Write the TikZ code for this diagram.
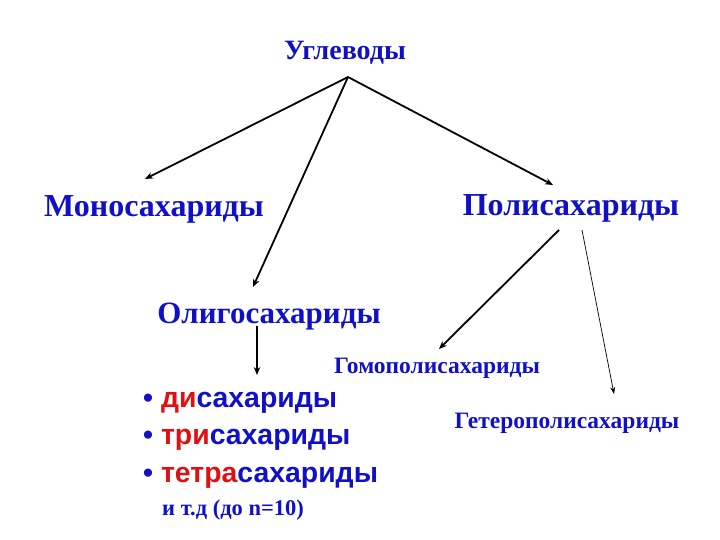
\documentclass[tikz,border=0pt]{standalone}
\usepackage{fontspec}
\setmainfont{Liberation Serif}
\setsansfont{Liberation Sans}
\usetikzlibrary{arrows.meta}
\definecolor{textblue}{RGB}{16,16,200}
\definecolor{textred}{RGB}{225,16,16}
\tikzset{
        textnode/.style={inner sep=0pt, anchor=base, textblue, font=\bfseries},
        % Top node
        node_root/.style={textnode, font=\fontsize{28}{32}\selectfont\bfseries},
        % First level nodes
        node_main/.style={textnode, font=\fontsize{32}{38}\selectfont\bfseries},
        % Second level nodes
        node_sub/.style={textnode, font=\fontsize{23.5}{28}\selectfont\bfseries},
        % Bulleted list
        node_list/.style={textnode, anchor=base west, font=\fontsize{28.4}{34}\selectfont\sffamily\bfseries},
        % Note under the list
        node_note/.style={textnode, anchor=base west, font=\fontsize{22.5}{27}\selectfont\bfseries},
        arrow_main/.style={-{Stealth[length=8pt,width=6.5pt]}, line width=1.8pt, black},
        arrow_thin/.style={-{Stealth[length=7pt,width=5pt]}, line width=0.7pt, black}
}
\newcommand{\prefix}[1]{\textcolor{textred}{#1}}
\begin{document}
\begin{tikzpicture}[x=1pt, y=-1pt]
            \useasboundingbox (0,0) rectangle (720,540);
            \node[node_root] (carbs) at (345,60) {Углеводы};
            \node[node_main] (mono) at (154,217) {Моносахариды};
            \node[node_main] (poly) at (571,215) {Полисахариды};
            \node[node_main, font=\fontsize{31}{37}\selectfont\bfseries] (oligo) at (269,323) {Олигосахариды};
            \node[node_sub] (homo) at (437,373) {Гомополисахариды};
            \node[node_sub] (hetero) at (567,428) {Гетерополисахариды};
            \node[node_list] (di) at (143,407) {• \prefix{ди}сахариды};
            \node[node_list] (tri) at (143,444) {• \prefix{три}сахариды};
            \node[node_list] (tetra) at (143,482) {• \prefix{тетра}сахариды};
            \node[node_note] (note) at (162,515) {и т.д (до n=10)};
            % arrow ends
            \coordinate (carbs_fork) at (348,77);
            \coordinate (mono_tip) at (145,179);
            \coordinate (oligo_tip) at (253,287);
            \coordinate (poly_tip) at (553,185);
            \coordinate (poly_left) at (559,230);
            \coordinate (poly_right) at (582,230);
            \coordinate (homo_tip) at (439,349);
            \coordinate (hetero_tip) at (614,394);
            \coordinate (oligo_start) at (257,326);
            \coordinate (list_tip) at (257,375);
            \draw[arrow_main] (carbs_fork) -- (mono_tip);
            \draw[arrow_main] (carbs_fork) -- (oligo_tip);
            \draw[arrow_main] (carbs_fork) -- (poly_tip);
            \draw[arrow_main] (poly_left) -- (homo_tip);
            \draw[arrow_thin] (poly_right) -- (hetero_tip);
            \draw[arrow_main] (oligo_start) -- (list_tip);
\end{tikzpicture}
\end{document}
